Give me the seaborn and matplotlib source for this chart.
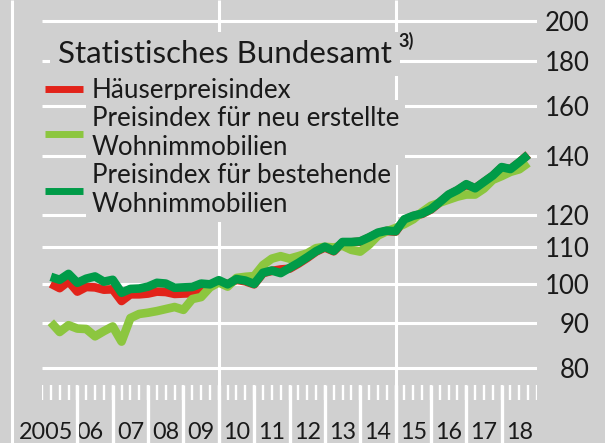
import numpy as np
import pandas as pd
import matplotlib
matplotlib.use("Agg")
import matplotlib.pyplot as plt
from matplotlib.lines import Line2D
from matplotlib.ticker import FixedLocator, NullLocator
from matplotlib.transforms import blended_transform_factory
import seaborn as sns

# quarterly index values, 2005Q1 .. 2018Q3 (2010 = 100)
quarters = pd.period_range("2005Q1", "2018Q3", freq="Q")

haeuser = [100.0, 98.8, 100.6, 97.9, 99.1, 99.0, 98.4, 98.5, 95.5, 97.2,
           97.2, 97.4, 97.9, 97.8, 97.3, 97.4, 97.5, 98.3, 99.3, 100.5,
           99.8, 101.0, 100.6, 99.8, 102.8, 103.4, 103.8, 104.0, 105.4, 107.0,
           108.8, 110.0, 108.9, 111.4, 111.5, 111.7, 112.9, 114.2, 114.9, 114.7,
           118.3, 119.5, 120.2, 121.6, 123.9, 126.3, 127.9, 129.8, 128.6, 130.7,
           132.9, 135.8, 135.3, 137.7, 140.6]
neu = [90.3, 88.0, 89.6, 88.8, 88.7, 87.0, 88.2, 89.3, 85.8, 91.3,
       92.3, 92.6, 93.0, 93.5, 94.0, 93.3, 96.0, 96.5, 99.0, 100.3,
       99.2, 101.5, 101.8, 102.0, 105.0, 106.8, 107.5, 106.8, 107.5, 108.3,
       109.8, 110.2, 110.0, 110.5, 109.3, 108.8, 110.8, 113.5, 114.8, 115.8,
       117.0, 118.5, 120.8, 122.8, 123.8, 124.8, 125.8, 126.5, 126.5, 128.5,
       131.5, 132.8, 134.3, 135.2, 137.5]
bestehend = [101.8, 101.0, 102.6, 100.2, 101.3, 101.9, 100.5, 101.0, 97.6, 98.6,
             98.7, 99.2, 100.2, 100.0, 98.9, 99.0, 99.1, 100.0, 99.8, 100.9,
             99.8, 101.2, 100.8, 99.9, 102.9, 103.5, 102.8, 104.2, 105.6, 107.2,
             108.9, 110.2, 109.0, 111.6, 111.6, 111.8, 113.0, 114.4, 115.0, 114.8,
             118.5, 119.6, 120.3, 121.7, 124.0, 126.5, 128.0, 130.0, 128.6, 130.8,
             133.0, 136.0, 135.3, 137.8, 140.5]

names = ["Häuserpreisindex",
         "Preisindex für neu erstellte\nWohnimmobilien",
         "Preisindex für bestehende\nWohnimmobilien"]
colors = ["#e2231a", "#8cc63f", "#009b48"]

year_labels = ["2005", "06", "07", "08", "09", "10", "11", "12", "13",
               "14", "15", "16", "17", "18"]
y_ticks = [80, 90, 100, 110, 120, 140, 160, 180, 200]

BG = "#d0d0d0"
INK = "#1a1a1a"

# quarter plotted at its end
xq = quarters.year + quarters.quarter / 4
df = pd.DataFrame({
    "x": np.tile(xq, 3),
    "wert": haeuser + neu + bestehend,
    "reihe": np.repeat(names, len(xq)),
})

sns.set_style("white", {"axes.facecolor": BG, "figure.facecolor": BG})
plt.rcParams["font.family"] = ["Lato", "DejaVu Sans"]
plt.rcParams["lines.solid_capstyle"] = "butt"
plt.rcParams["lines.solid_joinstyle"] = "round"

fig = plt.figure(figsize=(6.05, 4.43), dpi=100, facecolor=BG)
# axes span the full height; the time scale sits inside its bottom strip
ax = fig.add_axes([42 / 605, 0, 495 / 605, 1])

sns.lineplot(data=df, x="x", y="wert", hue="reihe", hue_order=names,
             palette=colors, linewidth=6.2, errorbar=None, ax=ax, zorder=3)

ax.set_yscale("log")
ax.set_ylim(65.65, 211.4)
ax.set_xlim(2005, 2019)
for s in ax.spines.values():
    s.set_visible(False)

# y axis on the right
ax.yaxis.set_major_locator(FixedLocator(y_ticks))
ax.yaxis.set_minor_locator(NullLocator())
ax.set_yticklabels([str(v) for v in y_ticks])
ax.yaxis.tick_right()
ax.tick_params(axis="y", length=0, pad=38, labelsize=18.5, labelcolor=INK)
for lbl in ax.get_yticklabels():
    lbl.set_ha("right")
ax.grid(axis="y", color="white", lw=2.2)
ax.set_axisbelow(True)
ax.set_xlabel("")
ax.set_ylabel("")
ax.tick_params(axis="x", length=0, labelbottom=False)

# time scale: short quarter ticks, long lines at year borders
years = np.arange(2006, 2019)
qpos = np.arange(2005, 2019.01, 0.25)
xt = ax.get_xaxis_transform()
ax.vlines(qpos, 43 / 443, 58 / 443, transform=xt, colors="white", lw=1.7)
for yr in (2010, 2015):
    ax.axvline(yr, color="white", lw=2.2, zorder=1)

bt = blended_transform_factory(ax.transData, fig.transFigure)
for yr in years:
    fig.add_artist(Line2D([yr, yr], [0, 58 / 443], transform=bt,
                          color="white", lw=2.4, zorder=10))

label_x = [2005.12, 2006.35] + [y + 0.5 for y in range(2007, 2019)]
for lx, lab in zip(label_x, year_labels):
    ax.text(lx, 4 / 443, lab, transform=xt, ha="center", va="baseline",
            fontsize=16.8, color=INK)

fig.add_artist(Line2D([12 / 605, 12 / 605], [0, 1], transform=fig.transFigure,
                      color="white", lw=2.2))

# title + legend, with grey boxes hiding the grid behind them
title = ax.text(58 / 605, 1 - 63 / 443, "Statistisches Bundesamt",
                transform=fig.transFigure, fontsize=22.5, va="baseline",
                color=INK, zorder=5,
                bbox=dict(fc=BG, ec="none", pad=6))
ax.annotate("3)", xy=(1, 1), xycoords=title, xytext=(5, 6),
            textcoords="offset points", va="top", fontsize=13,
            fontweight="bold", color=INK, zorder=5)

handles, labels = ax.get_legend_handles_labels()
leg = ax.legend(handles, labels, loc="upper left",
                bbox_to_anchor=(45 / 605, 1 - 78 / 443),
                bbox_transform=fig.transFigure, frameon=False, borderpad=0,
                borderaxespad=0, handlelength=1.45, handletextpad=0.35,
                labelspacing=0.1, fontsize=18.7)
leg.set_zorder(5)
for h in leg.legend_handles:
    h.set_linewidth(5)
for t in leg.get_texts():
    t.set_color(INK)
    t.set_linespacing(1.22)
    t.set_bbox(dict(fc=BG, ec="none", pad=4))

fig.savefig("out.png", dpi=100, facecolor=BG)
